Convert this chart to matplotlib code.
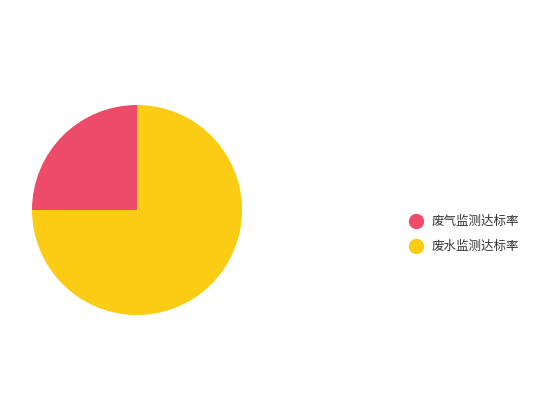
import matplotlib
matplotlib.use("Agg")
import matplotlib.pyplot as plt
from matplotlib.lines import Line2D

plt.rcParams['font.family'] = ['Noto Sans CJK SC', 'DejaVu Sans']

labels = ['废气监测达标率', '废水监测达标率']
values = [25, 75]
colors = ['#EE4A69', '#FACC14']

fig = plt.figure(figsize=(5.5, 4.2), dpi=100)
ax = fig.add_axes([32 / 550, 105 / 420, 210 / 550, 210 / 420])
ax.pie(values, colors=colors, startangle=90, counterclock=True,
       radius=1.0, wedgeprops=dict(linewidth=0))
ax.set_xlim(-1, 1)
ax.set_ylim(-1, 1)
ax.set_aspect('equal')
ax.axis('off')

handles = [Line2D([0], [0], marker='o', linestyle='', markersize=10,
                  markerfacecolor=c, markeredgecolor=c) for c in colors]
fig.legend(handles, labels, loc='center left', bbox_to_anchor=(397 / 550, 1 - 234 / 420),
           frameon=False, fontsize=9, handletextpad=0.7, labelspacing=0.95,
           handlelength=1.2, labelcolor='#333333')

fig.savefig('out.png', dpi=100)
